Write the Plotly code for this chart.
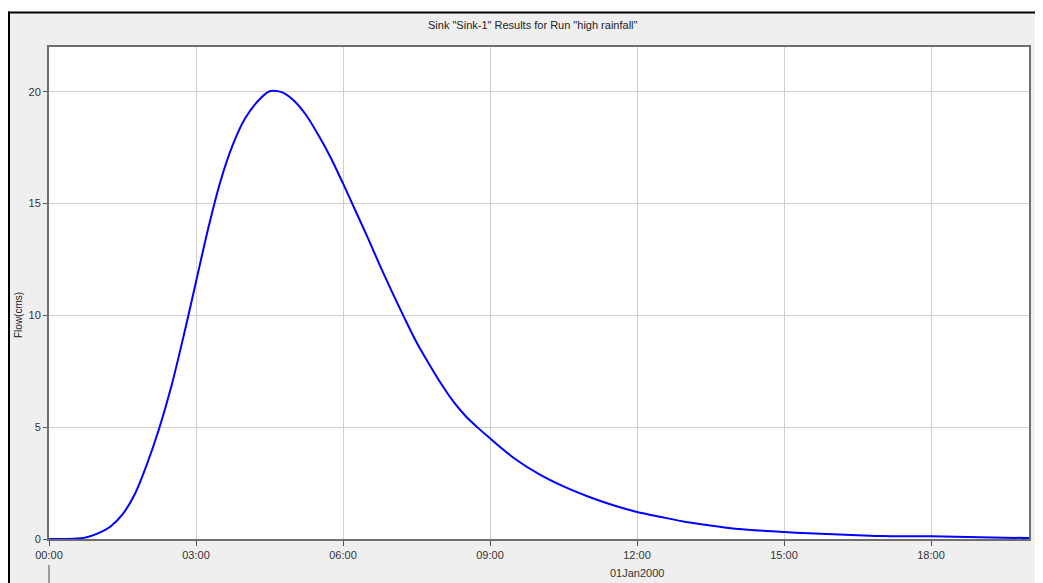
import plotly.graph_objects as go
import pandas as pd

# ---- data ----
hours = [0, 0.5, 0.75, 1.0, 1.25, 1.5, 1.75, 2.0, 2.25, 2.5, 2.75, 3.0, 3.25, 3.5,
         3.75, 4.0, 4.25, 4.5, 4.75, 5.0, 5.25, 5.5, 5.75, 6.0, 6.25, 6.5, 6.75,
         7.0, 7.25, 7.5, 7.75, 8.0, 8.25, 8.5, 8.75, 9.0, 9.5, 10.0, 10.5, 11.0,
         11.5, 12.0, 12.5, 13.0, 13.5, 14.0, 14.5, 15.0, 15.5, 16.0, 16.5, 17.0,
         17.5, 18.0, 18.5, 19.0, 19.5, 20.0]
flow = [0.0, 0.01, 0.07, 0.25, 0.55, 1.1, 2.0, 3.35, 4.95, 6.85, 9.1, 11.5, 13.9,
        16.0, 17.62, 18.8, 19.55, 20.02, 19.98, 19.6, 18.95, 18.05, 17.05, 15.9,
        14.7, 13.5, 12.25, 11.05, 9.9, 8.8, 7.85, 6.95, 6.15, 5.5, 4.98, 4.5, 3.6,
        2.9, 2.35, 1.9, 1.52, 1.21, 0.98, 0.76, 0.6, 0.46, 0.38, 0.31, 0.26, 0.21,
        0.17, 0.13, 0.12, 0.12, 0.1, 0.08, 0.06, 0.04]
title_text = 'Sink "Sink-1" Results for Run "high rainfall"'
y_title = "Flow(cms)"
date_label = "01Jan2000"
y_ticks = [0, 5, 10, 15, 20]

start = pd.Timestamp("2000-01-01 00:00")
times = [start + pd.Timedelta(hours=h) for h in hours]

# the page body has an 8px default margin: size the figure so it ends at the window edge
OFF = 8
W, H = 1043 - OFF, 583 - OFF
# plot area in window pixels: x 49..1029, y 47..539
L, R, T, B = 49 - OFF, 1043 - 1029, 47 - OFF, 583 - 539
pw, ph = 1029 - 49, 539 - 47


def px(x):  # window pixel -> paper
    return (x - 49) / pw


def py(y):
    return (539 - y) / ph


fig = go.Figure()
fig.add_trace(go.Scatter(x=times, y=flow, mode="lines",
                         line=dict(color="#0000ff", width=2, shape="spline", smoothing=0.8),
                         showlegend=False))

font = dict(family="Liberation Sans, Arial, sans-serif", size=11, color="#333333")

fig.update_layout(
    width=W, height=H,
    margin=dict(l=L, r=R, t=T, b=B, autoexpand=False),
    paper_bgcolor="#efefef",
    plot_bgcolor="#ffffff",
    font=font,
    showlegend=False,
    xaxis=dict(
        type="date",
        range=[start, start + pd.Timedelta(hours=20)],
        dtick=3 * 3600 * 1000,
        tick0=start,
        tickformat="%H:%M",
        showgrid=True, gridcolor="#d0d0d0", gridwidth=1,
        showline=True, linecolor="#6e6e6e", linewidth=2, mirror=True,
        ticks="outside", ticklen=5, tickcolor="#555555", tickwidth=1,
        zeroline=False,
        tickfont=font,
    ),
    yaxis=dict(
        range=[0, 22],
        tickvals=y_ticks,
        showgrid=True, gridcolor="#d0d0d0", gridwidth=1,
        showline=True, linecolor="#6e6e6e", linewidth=2, mirror=True,
        ticks="outside", ticklen=4, tickcolor="#555555", tickwidth=1,
        zeroline=False,
        tickfont=font,
    ),
)

shapes = [
    # white strip on top
    dict(type="rect", xref="paper", yref="paper", x0=px(-5), x1=px(1050), y0=py(12), y1=py(-5),
         fillcolor="#ffffff", line=dict(width=0), layer="above"),
    # black border top
    dict(type="line", xref="paper", yref="paper", x0=px(8), x1=px(1050), y0=py(12.5), y1=py(12.5),
         line=dict(color="#000000", width=2), layer="above"),
    # black border left
    dict(type="line", xref="paper", yref="paper", x0=px(9), x1=px(9), y0=py(11.5), y1=py(590),
         line=dict(color="#000000", width=2), layer="above"),
    # day-boundary tick below labels
    dict(type="line", xref="paper", yref="paper", x0=px(49), x1=px(49), y0=py(565), y1=py(590),
         line=dict(color="#808080", width=1.5), layer="above"),
]
fig.update_layout(shapes=shapes)

fig.add_annotation(text=title_text, xref="paper", yref="paper", x=px(533), y=py(25),
                   showarrow=False,
                   font=dict(family="Liberation Sans, Arial, sans-serif", size=11, color="#222222"),
                   xanchor="center", yanchor="middle")
fig.add_annotation(text=y_title, xref="paper", yref="paper", x=px(18), y=py(315), textangle=-90,
                   showarrow=False,
                   font=dict(family="Liberation Sans, Arial, sans-serif", size=10, color="#222222"),
                   xanchor="center", yanchor="middle")
fig.add_annotation(text=date_label, xref="paper", yref="paper", x=px(637), y=py(573),
                   showarrow=False, font=font, xanchor="center", yanchor="middle")

fig.write_html("out.html")
